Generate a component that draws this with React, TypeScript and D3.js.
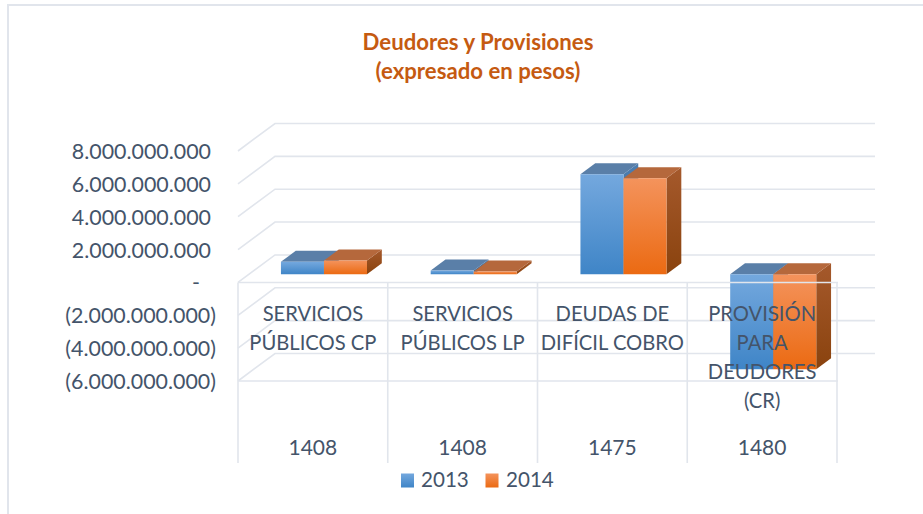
import * as d3 from "d3";

const categories = ["SERVICIOS PÚBLICOS CP", "SERVICIOS PÚBLICOS LP", "DEUDAS DE DIFÍCIL COBRO", "PROVISIÓN PARA DEUDORES (CR)"];
const categoryLines = [
    ["SERVICIOS", "PÚBLICOS CP"],
    ["SERVICIOS", "PÚBLICOS LP"],
    ["DEUDAS DE", "DIFÍCIL COBRO"],
    ["PROVISIÓN", "PARA", "DEUDORES", "(CR)"],
];
const codes = ["1408", "1408", "1475", "1480"];
const values2013 = [750000000, 220000000, 6080000000, -5780000000];
const values2014 = [830000000, 160000000, 5840000000, -5780000000];
const yTicks = [8000000000, 6000000000, 4000000000, 2000000000, 0, -2000000000, -4000000000, -6000000000];
const seriesNames = ["2013", "2014"];

const FONT = "Lato, 'Open Sans', sans-serif";
const GRID = "#e1e5ec";
const TEXT = "#44546a";

const locale = d3.formatLocale({decimal: ",", thousands: ".", grouping: [3], currency: ["", ""]});
const group = locale.format(",");
const tickLabel = (v: number) => v === 0 ? "-" : v < 0 ? "(" + group(-v) + ")" : group(v);

const y = d3.scaleLinear().domain([-6000000000, 8000000000]).range([381, 151]);
const x = d3.scaleBand().domain(categories).range([238, 837]);
const inner = d3.scaleBand().domain(seriesNames).range([0, x.bandwidth()]).paddingOuter(0.74).paddingInner(0);

// oblique projection of the 3D box: z runs from the front plane (0) to the back wall (1)
const depthX = 37;
const depthY = 27.5;
const px = (xv: number, z: number) => xv + depthX * z;
const py = (v: number, z: number) => y(v) - depthY * z;
const zFront = 0.3;
const zBack = 0.7;

const poly = (pts: [number, number][]) => d3.line()(pts) + "Z";

const palette = [
    {id: "blue", top: "#5a7fa8", grad: ["#74a8de", "#3f85c7"], side: ["#4d7eb0", "#2f6497"]},
    {id: "orange", top: "#b5683c", grad: ["#f4935c", "#eb6a12"], side: ["#a5592c", "#8a430e"]},
];

const Bar = ({cat, name, value, c}: any) => {
    const x0 = (x(cat) as number) + (inner(name) as number);
    const x1 = x0 + inner.bandwidth();
    const hi = Math.max(value, 0);
    const lo = Math.min(value, 0);
    return (
        <g>
            <path d={poly([[px(x1, zFront), py(hi, zFront)], [px(x1, zBack), py(hi, zBack)], [px(x1, zBack), py(lo, zBack)], [px(x1, zFront), py(lo, zFront)]])} fill={`url(#${c.id}Side)`} />
            <path d={poly([[px(x0, zFront), py(hi, zFront)], [px(x0, zBack), py(hi, zBack)], [px(x1, zBack), py(hi, zBack)], [px(x1, zFront), py(hi, zFront)]])} fill={c.top} />
            <path d={poly([[px(x0, zFront), py(hi, zFront)], [px(x1, zFront), py(hi, zFront)], [px(x1, zFront), py(lo, zFront)], [px(x0, zFront), py(lo, zFront)]])} fill={`url(#${c.id}Front)`} />
        </g>
    );
};

export default function App() {
    const edges = [...categories.map(c => x(c) as number), 837];
    return (
        <svg width={923} height={514} style={{position: "absolute", left: 0, top: 0, background: "#fff"}} fontFamily={FONT}>
            <defs>
                {palette.map(c => (
                    <g key={c.id}>
                        <linearGradient id={c.id + "Front"} x1="0" y1="0" x2="0" y2="1">
                            <stop offset="0" stopColor={c.grad[0]} />
                            <stop offset="1" stopColor={c.grad[1]} />
                        </linearGradient>
                        <linearGradient id={c.id + "Side"} x1="0" y1="0" x2="0" y2="1">
                            <stop offset="0" stopColor={c.side[0]} />
                            <stop offset="1" stopColor={c.side[1]} />
                        </linearGradient>
                    </g>
                ))}
            </defs>

            <path d="M8,514V5H923" fill="none" stroke={GRID} strokeWidth={2} />

            <text x={478} textAnchor="middle" fontSize={22.2} fontWeight={700} fill="#c55a11">
                <tspan x={478} y={49.5}>Deudores y Provisiones</tspan>
                <tspan x={478} y={78.5}>(expresado en pesos)</tspan>
            </text>

            {yTicks.map(t => (
                <g key={t}>
                    <path d={`M${px(238, 0)},${py(t, 0)}L${px(238, 1)},${py(t, 1)}H875`} fill="none" stroke={GRID} strokeWidth={1.6} />
                    <text x={t < 0 ? 216 : t === 0 ? 200 : 211} y={y(t) + 8} textAnchor="end" fontSize={21.4} fill={TEXT}>{tickLabel(t)}</text>
                </g>
            ))}

            {categories.map((cat, i) => (
                <g key={cat + i}>
                    <Bar cat={cat} name={seriesNames[0]} value={values2013[i]} c={palette[0]} />
                    <Bar cat={cat} name={seriesNames[1]} value={values2014[i]} c={palette[1]} />
                </g>
            ))}

            <g stroke={GRID} strokeWidth={1.6} fill="none">
                <path d={`M238,${y(0)}H838`} />
                <path d={`M238,${y(-6000000000)}H838`} />
                {edges.map(e => <path key={e} d={`M${e},${y(0)}V463`} />)}
            </g>

            {categories.map((cat, i) => {
                const cx = (x(cat) as number) + x.bandwidth() / 2;
                return (
                    <g key={cat} textAnchor="middle" fill={TEXT}>
                        <text fontSize={20.2}>
                            {categoryLines[i].map((line, j) => <tspan key={j} x={cx} y={320.5 + j * 29.3}>{line}</tspan>)}
                        </text>
                        <text x={cx} y={455} fontSize={21}>{codes[i]}</text>
                    </g>
                );
            })}

            {seriesNames.map((name, i) => (
                <g key={name}>
                    <rect x={401 + i * 84.5} y={473.5} width={13} height={14} fill={`url(#${palette[i].id}Front)`} />
                    <text x={421 + i * 85} y={487} fontSize={20.6} fill={TEXT}>{name}</text>
                </g>
            ))}
        </svg>
    );
}
